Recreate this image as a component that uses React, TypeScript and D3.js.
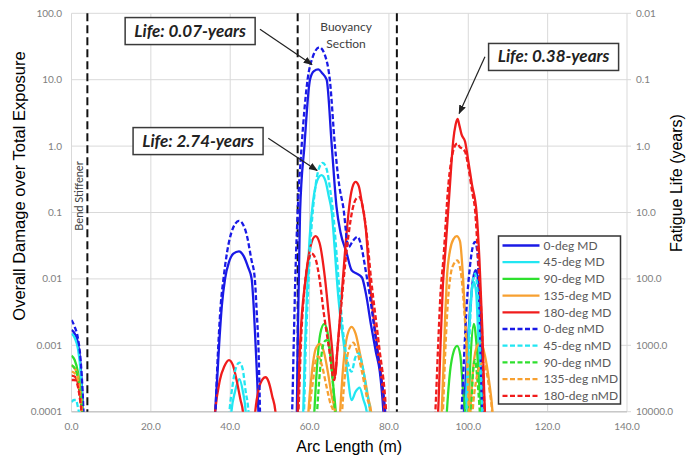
import React from 'react';
import * as d3 from 'd3';

type Pt = [number, number];

// ---------- axis data ----------
const xTicks = [0, 20, 40, 60, 80, 100, 120, 140];
const xTickLabels = ['0.0', '20.0', '40.0', '60.0', '80.0', '100.0', '120.0', '140.0'];
const yTicks = [0.0001, 0.001, 0.01, 0.1, 1, 10, 100];
const yTickLabels = ['0.0001', '0.001', '0.01', '0.1', '1.0', '10.0', '100.0'];
const lifeTickLabels = ['10000.0', '1000.0', '100.0', '10.0', '1.0', '0.1', '0.01'];
const sectionLines = [4, 57, 82];

// ---------- series (arc length m, damage) ----------
const deg0MD: Pt[][] = [
  [[0, 0.0017], [0.8, 0.0015], [1.6, 0.0011], [2.3, 0.0005], [2.8, 0.00015], [3.1, 0.00005]],
  [[35.9, 0.00005], [36.2, 0.0001], [36.7, 0.0003], [37.2, 0.001], [37.9, 0.004], [38.7, 0.01], [39.7, 0.018], [40.8, 0.024], [42.2, 0.026], [43.4, 0.022], [44.5, 0.015], [45.4, 0.01], [45.9, 0.004], [46.4, 0.001], [46.8, 0.0003], [47.1, 0.0001], [47.3, 0.00005]],
  [[56.6, 0.00005], [56.8, 0.0001], [57.0, 0.001], [57.3, 0.01], [57.6, 0.1], [58.7, 1.0], [60.1, 10], [61.1, 13.5], [62.2, 14.3], [63.2, 12.5], [64.3, 10], [65.6, 1.0], [66.8, 0.12], [67.8, 0.05], [69.3, 0.025], [70.6, 0.0135], [71.9, 0.012], [73.2, 0.0105], [74.2, 0.006], [75.5, 0.002], [76.7, 0.0008], [77.7, 0.0004], [78.6, 0.0001], [78.9, 0.00005]],
  [[98.6, 0.00005], [98.9, 0.0001], [99.6, 0.0006], [100.4, 0.003], [101.2, 0.01], [101.9, 0.0135], [102.5, 0.009], [103.0, 0.002], [103.4, 0.0002], [103.7, 0.00005]],
];
const deg45MD: Pt[][] = [
  [[0, 0.0015], [0.8, 0.0013], [1.6, 0.0009], [2.3, 0.0004], [2.8, 0.00012], [3.1, 0.00005]],
  [[39.9, 0.00005], [40.3, 0.0001], [41.2, 0.0002], [42.3, 0.00031], [43.2, 0.0002], [43.9, 0.0001], [44.2, 0.00005]],
  [[58.1, 0.00005], [58.4, 0.0001], [58.8, 0.0008], [59.3, 0.005], [60.0, 0.04], [60.9, 0.15], [61.9, 0.3], [63.0, 0.365], [64.0, 0.3], [64.8, 0.18], [65.6, 0.1], [66.3, 0.03], [67.0, 0.008], [67.8, 0.0025], [68.5, 0.0012], [69.5, 0.0004], [70.6, 0.00015], [71.6, 0.0002], [72.6, 0.00023], [73.6, 0.00015], [74.4, 0.0001], [74.7, 0.00005]],
  [[99.0, 0.00005], [99.3, 0.0001], [100.0, 0.001], [100.8, 0.006], [101.4, 0.009], [102.0, 0.006], [102.6, 0.001], [103.3, 0.0001], [103.6, 0.00005]],
];
const deg90MD: Pt[][] = [
  [[0, 0.0007], [0.8, 0.0006], [1.6, 0.0004], [2.3, 0.0002], [2.8, 0.0001], [3.1, 0.00005]],
  [[60.9, 0.00005], [61.2, 0.0001], [61.9, 0.0005], [62.7, 0.0015], [63.7, 0.0021], [64.5, 0.0016], [65.4, 0.0006], [66.1, 0.0002], [66.6, 0.0001], [66.9, 0.00005]],
  [[94.3, 0.00005], [94.6, 0.0001], [95.4, 0.0004], [96.3, 0.0008], [97.2, 0.00098], [98.0, 0.0007], [98.7, 0.0002], [99.2, 0.0001], [99.5, 0.00005]],
  [[99.7, 0.00005], [100.0, 0.0001], [100.6, 0.0007], [101.4, 0.0021], [102.1, 0.001], [102.9, 0.0002], [103.4, 0.0001], [103.7, 0.00005]],
];
const deg135MD: Pt[][] = [
  [[0, 0.0005], [0.8, 0.00045], [1.6, 0.00035], [2.3, 0.00018], [2.9, 0.00008], [3.1, 0.00005]],
  [[59.4, 0.00005], [59.7, 0.0001], [60.6, 0.0004], [61.6, 0.0009], [62.6, 0.00105], [63.6, 0.0008], [64.6, 0.0004], [65.6, 0.00017], [66.4, 0.0001], [66.7, 0.00005]],
  [[67.4, 0.00005], [67.7, 0.0001], [68.5, 0.0005], [69.5, 0.0014], [70.6, 0.0019], [71.6, 0.0015], [72.8, 0.0007], [74.0, 0.0003], [74.9, 0.00015], [75.5, 0.0001], [75.8, 0.00005]],
  [[93.0, 0.00005], [93.3, 0.0001], [93.8, 0.0006], [94.2, 0.003], [94.6, 0.01], [95.4, 0.027], [96.3, 0.04], [97.1, 0.044], [97.9, 0.037], [98.7, 0.01], [99.3, 0.002], [99.9, 0.0004], [100.5, 0.0001], [100.8, 0.00005]],
  [[100.2, 0.00005], [100.5, 0.0001], [101.3, 0.0005], [102.3, 0.001], [103.2, 0.0011], [104.2, 0.0007], [105.2, 0.0003], [106.1, 0.0001], [106.4, 0.00005]],
];
const deg180MD: Pt[][] = [
  [[0, 0.00035], [0.8, 0.00034], [1.6, 0.00027], [2.3, 0.00015], [2.9, 0.00007], [3.1, 0.00005]],
  [[35.8, 0.00005], [36.2, 0.0001], [37.4, 0.0003], [38.5, 0.00048], [39.7, 0.0006], [40.7, 0.0005], [41.6, 0.0003], [42.6, 0.00015], [43.2, 0.0001], [43.5, 0.00005]],
  [[45.9, 0.00005], [46.3, 0.0001], [47.2, 0.00022], [48.2, 0.00031], [48.9, 0.00033], [49.7, 0.00028], [50.6, 0.00017], [51.4, 0.0001], [51.8, 0.00005]],
  [[56.7, 0.00005], [57.0, 0.0001], [57.6, 0.001], [59.0, 0.01], [60.2, 0.03], [61.5, 0.044], [62.5, 0.035], [63.9, 0.01], [64.8, 0.003], [65.6, 0.001], [66.4, 0.00034], [67.1, 0.001], [68.4, 0.01], [69.4, 0.055], [70.2, 0.155], [71.0, 0.26], [71.6, 0.29], [72.4, 0.25], [73.1, 0.15], [74.2, 0.055], [75.1, 0.01], [77.0, 0.001], [78.9, 0.0001], [79.2, 0.00005]],
  [[92.1, 0.00005], [92.4, 0.0001], [93.0, 0.001], [93.6, 0.008], [94.3, 0.03], [95.4, 0.27], [96.2, 1.2], [96.8, 2.1], [97.3, 2.56], [97.8, 2.0], [98.3, 1.5], [99.2, 1.16], [100.0, 0.6], [100.9, 0.27], [102.1, 0.098], [102.8, 0.02], [103.5, 0.002], [104.2, 0.0001], [104.5, 0.00005]],
];
const deg0nMD: Pt[][] = [
  [[0, 0.0024], [0.8, 0.0019], [1.6, 0.0013], [2.3, 0.0006], [2.8, 0.0002], [3.2, 0.00005]],
  [[36.0, 0.00005], [36.3, 0.0001], [36.6, 0.0003], [37.0, 0.001], [37.6, 0.004], [38.3, 0.01], [39.2, 0.025], [40.3, 0.05], [41.3, 0.068], [42.2, 0.075], [43.1, 0.068], [44.2, 0.045], [45.3, 0.02], [46.2, 0.01], [46.7, 0.003], [47.1, 0.001], [47.4, 0.0002], [47.6, 0.00005]],
  [[55.3, 0.00005], [55.6, 0.0001], [56.0, 0.001], [56.4, 0.01], [57.0, 0.1], [58.0, 1.0], [59.5, 10], [60.8, 22], [62.5, 30.7], [63.8, 24], [65.1, 10], [66.4, 1.0], [67.5, 0.25], [68.5, 0.12], [69.8, 0.03], [71.0, 0.038], [72.1, 0.043], [73.1, 0.03], [74.0, 0.015], [75.3, 0.005], [76.5, 0.0015], [77.8, 0.0004], [79.0, 0.00011], [79.4, 0.00005]],
  [[98.0, 0.00005], [98.3, 0.0001], [98.9, 0.0006], [99.6, 0.004], [100.4, 0.015], [101.1, 0.03], [101.7, 0.036], [102.3, 0.025], [102.8, 0.004], [103.2, 0.0004], [103.5, 0.0001], [103.8, 0.00005]],
];
const deg45nMD: Pt[][] = [
  [[0, 0.00014], [0.6, 0.00015], [1.1, 0.00015], [1.7, 0.00011], [2.1, 0.00008], [2.3, 0.00005]],
  [[39.4, 0.00005], [39.8, 0.0001], [40.6, 0.00025], [41.4, 0.00045], [42.3, 0.00055], [43.1, 0.00045], [43.9, 0.0002], [44.6, 0.0001], [44.9, 0.00005]],
  [[58.3, 0.00005], [58.6, 0.0001], [59.0, 0.0008], [59.6, 0.006], [60.4, 0.05], [61.3, 0.2], [62.3, 0.45], [63.3, 0.56], [64.3, 0.45], [65.2, 0.22], [66.1, 0.08], [66.9, 0.02], [67.7, 0.005], [68.5, 0.0015], [69.5, 0.0006], [70.6, 0.0004], [71.5, 0.00065], [72.3, 0.00077], [73.3, 0.0005], [74.4, 0.0002], [75.2, 0.0001], [75.5, 0.00005]],
  [[99.2, 0.00005], [99.5, 0.0001], [100.2, 0.001], [101.0, 0.008], [101.7, 0.012], [102.3, 0.007], [102.9, 0.001], [103.5, 0.0001], [103.8, 0.00005]],
];
const deg90nMD: Pt[][] = [
  [[0, 0.0005], [0.8, 0.00045], [1.6, 0.00033], [2.4, 0.00016], [3.0, 0.00005]],
  [[61.6, 0.00005], [61.9, 0.0001], [62.6, 0.0004], [63.4, 0.001], [64.2, 0.0012], [65.0, 0.0009], [65.8, 0.0003], [66.4, 0.0001], [66.7, 0.00005]],
  [[100.4, 0.00005], [100.7, 0.0001], [101.2, 0.0004], [101.7, 0.0006], [102.3, 0.0003], [102.9, 0.0001], [103.2, 0.00005]],
];
const deg135nMD: Pt[][] = [
  [[0, 0.0004], [0.8, 0.00038], [1.6, 0.0003], [2.3, 0.00015], [2.9, 0.00007], [3.1, 0.00005]],
  [[59.7, 0.00005], [60.0, 0.0001], [60.9, 0.0003], [61.6, 0.0006], [62.2, 0.00068], [63.1, 0.0005], [64.2, 0.00025], [65.3, 0.00013], [66.0, 0.0001], [66.3, 0.00005]],
  [[67.9, 0.00005], [68.2, 0.0001], [69.0, 0.0004], [70.0, 0.0009], [71.0, 0.0011], [72.0, 0.0008], [73.2, 0.0004], [74.4, 0.00017], [75.3, 0.0001], [75.6, 0.00005]],
  [[93.3, 0.00005], [93.6, 0.0001], [94.2, 0.0008], [94.8, 0.004], [95.6, 0.012], [96.4, 0.017], [97.2, 0.019], [98.0, 0.014], [98.9, 0.004], [99.6, 0.0008], [100.2, 0.0001], [100.5, 0.00005]],
  [[100.8, 0.00005], [101.1, 0.0001], [102.0, 0.0003], [103.0, 0.0005], [103.8, 0.00055], [104.6, 0.0004], [105.4, 0.0002], [106.0, 0.0001], [106.3, 0.00005]],
];
const deg180nMD: Pt[][] = [
  [[0, 0.0003], [0.8, 0.0003], [1.6, 0.00024], [2.3, 0.00013], [2.8, 0.00007], [3.0, 0.00005]],
  [[56.9, 0.00005], [57.2, 0.0001], [57.8, 0.001], [58.8, 0.008], [59.7, 0.019], [60.5, 0.024], [61.5, 0.02], [62.5, 0.01], [63.6, 0.003], [64.8, 0.001], [66.2, 0.0003], [67.1, 0.001], [68.6, 0.01], [69.8, 0.045], [70.8, 0.11], [71.7, 0.16], [72.5, 0.17], [73.3, 0.13], [74.2, 0.06], [75.5, 0.01], [77.5, 0.001], [79.3, 0.0001], [79.6, 0.00005]],
  [[91.4, 0.00005], [91.7, 0.0001], [92.4, 0.001], [93.0, 0.006], [93.7, 0.019], [95.0, 0.27], [96.2, 0.85], [96.8, 1.05], [97.3, 1.1], [97.8, 0.98], [98.3, 0.93], [99.2, 0.82], [100.1, 0.45], [101.0, 0.2], [101.7, 0.11], [102.5, 0.019], [103.4, 0.002], [104.1, 0.0001], [104.4, 0.00005]],
];

const seriesNames = ['0-deg MD', '45-deg MD', '90-deg MD', '135-deg MD', '180-deg MD', '0-deg nMD', '45-deg nMD', '90-deg nMD', '135-deg nMD', '180-deg nMD'];
const seriesData = [deg0MD, deg45MD, deg90MD, deg135MD, deg180MD, deg0nMD, deg45nMD, deg90nMD, deg135nMD, deg180nMD];
const palette = ['#1a1ae6', '#22e6f2', '#2ee02e', '#f7a030', '#f01c1c'];

// annotations: [label, box centre arc, box centre damage, arrow start arc, arrow start dmg, arrow end arc, arrow end dmg]
const annotations: [string, number, number, number, number, number, number][] = [
  ['Life: 0.07-years', 29.9, 54, 47.5, 57.5, 60.6, 17],
  ['Life: 2.74-years', 31.9, 1.19, 49.6, 1.31, 61.9, 0.43],
  ['Life: 0.38-years', 121.5, 22, 104.2, 22.2, 97.7, 3.1],
];

const W = 700;
const H = 460;
const L = 71.5;
const R = 627;
const T = 13.3;
const B = 411.7;

export default function App() {
  const x = d3.scaleLinear().domain([0, 140]).range([L, R]);
  const y = d3.scaleLog().domain([0.0001, 100]).range([B, T]);
  const line = d3
    .line<Pt>()
    .x((d) => x(d[0]))
    .y((d) => y(d[1]))
    .curve(d3.curveMonotoneX);

  const tickFont = 'Lato, sans-serif';
  const legX = 498.5;
  const legY = 236;
  const rowH = 16.7;

  return (
    <svg width={W} height={H} style={{ position: 'absolute', left: 0, top: 0, background: '#fff' }}>
      <defs>
        <clipPath id="plotClip">
          <rect x={L} y={T - 2} width={R - L} height={B - T + 2} />
        </clipPath>
        <marker id="arrowHead" viewBox="0 0 10 10" refX="9" refY="5" markerWidth="9" markerHeight="9" markerUnits="userSpaceOnUse" orient="auto">
          <path d="M0,1 L10,5 L0,9 z" fill="#222" />
        </marker>
      </defs>
      <rect x={0} y={0} width={W} height={H} fill="#fff" />

      {/* gridlines */}
      {xTicks.map((t) => (
        <line key={'gx' + t} x1={x(t)} x2={x(t)} y1={T} y2={B} stroke="#d9d9d9" strokeWidth={1} />
      ))}
      {yTicks.map((t) => (
        <line key={'gy' + t} x1={L} x2={R + 4} y1={y(t)} y2={y(t)} stroke="#d9d9d9" strokeWidth={1} />
      ))}
      <line x1={L} x2={R} y1={B} y2={B} stroke="#c8c8c8" strokeWidth={1.5} />

      {/* tick labels */}
      {yTicks.map((t, i) => (
        <text key={'yl' + t} x={62} y={y(t) + 3.5} textAnchor="end" fontFamily={tickFont} fontSize={10} fill="#808080">
          {yTickLabels[i]}
        </text>
      ))}
      {yTicks.map((t, i) => (
        <text key={'rl' + t} x={636} y={y(t) + 3.5} textAnchor="start" fontFamily={tickFont} fontSize={10} fill="#808080">
          {lifeTickLabels[i]}
        </text>
      ))}
      {xTicks.map((t, i) => (
        <text key={'xl' + t} x={x(t)} y={429.5} textAnchor="middle" fontFamily={tickFont} fontSize={10} fill="#808080">
          {xTickLabels[i]}
        </text>
      ))}

      {/* axis titles */}
      <text x={(L + R) / 2} y={452} textAnchor="middle" fontFamily="'Liberation Sans', Arial, sans-serif" fontSize={16} fill="#000">
        Arc Length (m)
      </text>
      <text transform={`translate(25,186) rotate(-90)`} textAnchor="middle" fontFamily="'Liberation Sans', Arial, sans-serif" fontSize={16.5} fill="#000">
        Overall Damage over Total Exposure
      </text>
      <text transform={`translate(682,183) rotate(-90)`} textAnchor="middle" fontFamily="'Liberation Sans', Arial, sans-serif" fontSize={16} fill="#000">
        Fatigue Life (years)
      </text>

      {/* section markers */}
      {sectionLines.map((s) => (
        <line key={'sl' + s} x1={x(s)} x2={x(s)} y1={T} y2={B} stroke="#111" strokeWidth={2} strokeDasharray="8,4" />
      ))}
      <text transform={`translate(${x(4) - 4},196) rotate(-90)`} textAnchor="middle" fontFamily={tickFont} fontSize={11} fill="#404040">
        Bend Stiffener
      </text>
      <text x={x(69.2)} y={31} textAnchor="middle" fontFamily={tickFont} fontSize={12} fill="#404040">
        Buoyancy
      </text>
      <text x={x(69.2)} y={47.5} textAnchor="middle" fontFamily={tickFont} fontSize={12} fill="#404040">
        Section
      </text>

      {/* series */}
      <g clipPath="url(#plotClip)">
        {seriesData.map((segs, si) =>
          segs.map((seg, k) => (
            <path
              key={'s' + si + '-' + k}
              d={line(seg) || ''}
              fill="none"
              stroke={palette[si % 5]}
              strokeWidth={2.3}
              strokeDasharray={si >= 5 ? '5,2.5' : undefined}
              strokeLinejoin="round"
            />
          ))
        )}
      </g>

      {/* annotations */}
      {annotations.map((a, i) => {
        const cx = x(a[1]);
        const cy = y(a[2]);
        return (
          <g key={'an' + i}>
            <line x1={x(a[3])} y1={y(a[4])} x2={x(a[5])} y2={y(a[6])} stroke="#222" strokeWidth={1.2} markerEnd="url(#arrowHead)" />
            <rect x={cx - 65} y={cy - 13.5} width={130} height={27} fill="#fff" stroke="#3a3a3a" strokeWidth={1.5} />
            <text x={cx} y={cy + 5.5} textAnchor="middle" fontFamily={tickFont} fontWeight="bold" fontStyle="italic" fontSize={17} fill="#222">
              {a[0]}
            </text>
          </g>
        );
      })}

      {/* legend */}
      <g>
        <rect x={legX} y={legY} width={122} height={168} fill="#fff" stroke="#333" strokeWidth={1.5} />
        {seriesNames.map((n, i) => {
          const ry = legY + 9.5 + i * rowH;
          return (
            <g key={'lg' + i}>
              <line x1={legX + 4} x2={legX + 41} y1={ry} y2={ry} stroke={palette[i % 5]} strokeWidth={2.3} strokeDasharray={i >= 5 ? '5,2.5' : undefined} />
              <text x={legX + 45} y={ry + 4.2} fontFamily={tickFont} fontSize={12} fill="#595959">
                {n}
              </text>
            </g>
          );
        })}
      </g>
    </svg>
  );
}
